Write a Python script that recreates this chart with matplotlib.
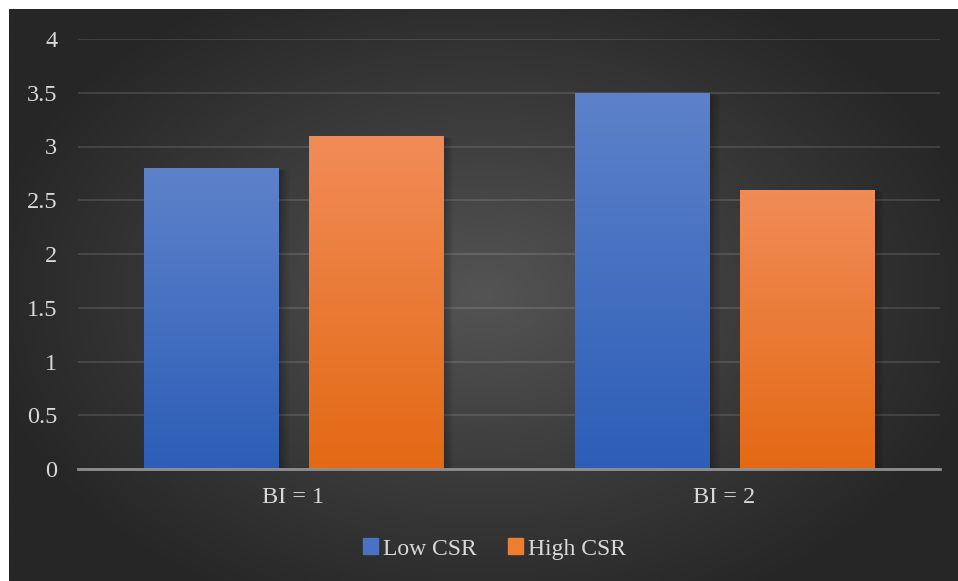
import glob
import numpy as np
import matplotlib
matplotlib.use("Agg")
import matplotlib.pyplot as plt
from matplotlib import font_manager
from matplotlib.patches import Rectangle
from matplotlib.colors import LinearSegmentedColormap

categories = ["BI = 1", "BI = 2"]
low_csr = [2.8, 3.5]
high_csr = [3.1, 2.6]
series_names = ["Low CSR", "High CSR"]
y_ticks = [0, 0.5, 1, 1.5, 2, 2.5, 3, 3.5, 4]
y_tick_labels = ["0", "0.5", "1", "1.5", "2", "2.5", "3", "3.5", "4"]

# register the serif face explicitly in case it isn't in the cache
serif_name = "DejaVu Serif"
for path in glob.glob("/usr/share/fonts/**/LiberationSerif-Regular.ttf", recursive=True):
    font_manager.fontManager.addfont(path)
    serif_name = font_manager.FontProperties(fname=path).get_name()
plt.rcParams["font.family"] = [serif_name, "DejaVu Serif"]
text_col = "#d9d9d9"

fig = plt.figure(figsize=(9.58, 5.81), dpi=100)
fig.patch.set_facecolor("white")
fig.text(0.5, 0.5, serif_name, alpha=0)

# dark radial background panel
bg = fig.add_axes([9 / 958, 0, 949 / 958, 572 / 581])
bg.set_axis_off()
yy, xx = np.mgrid[0:1:300j, 0:1:500j]
r = np.sqrt(((xx - 0.5) / 0.75) ** 2 + ((yy - 0.5) / 0.85) ** 2)
r = np.clip(r / 0.72, 0, 1)
bg_cmap = LinearSegmentedColormap.from_list("bg", ["#545454", "#3c3c3c", "#262626"])
bg.imshow(r, cmap=bg_cmap, aspect="auto", extent=[0, 1, 0, 1], vmin=0, vmax=1)
bg.set_xlim(0, 1)
bg.set_ylim(0, 1)

ax = fig.add_axes([78 / 958, 112 / 581, 862 / 958, 430 / 581])
ax.patch.set_alpha(0)

x = np.arange(len(categories))
width = 0.311
offset = 0.191

blue_cmap = LinearSegmentedColormap.from_list("blue", ["#2d5db7", "#5d82ca"])
orange_cmap = LinearSegmentedColormap.from_list("orange", ["#e36914", "#f18c58"])

grad = np.linspace(0, 1, 256).reshape(-1, 1)
for vals, dx, cmap in [(low_csr, -offset, blue_cmap), (high_csr, offset, orange_cmap)]:
    bars = ax.bar(x + dx, vals, width, color="none", zorder=3)
    for b in bars:
        bx, by = b.get_x(), b.get_y()
        bw, bh = b.get_width(), b.get_height()
        # soft drop shadow
        for k in range(1, 7):
            ax.add_patch(Rectangle((bx + 0.004 * k, by), bw, bh - 0.004 * k,
                                   color="black", alpha=0.045, lw=0, zorder=2))
        im = ax.imshow(grad, cmap=cmap, origin="lower", aspect="auto",
                       extent=[bx, bx + bw, by, by + bh], zorder=3)
        im.set_clip_path(b)

ax.set_xlim(-0.5, 1.5)
ax.set_ylim(0, 4)
ax.set_yticks(y_ticks)
ax.set_yticklabels(y_tick_labels)
ax.set_xticks(x)
ax.set_xticklabels(categories)
ax.tick_params(axis="y", length=0, pad=15, labelsize=17.5, labelcolor=text_col)
ax.tick_params(axis="x", length=0, pad=13, labelsize=17.5, labelcolor=text_col)
ax.grid(axis="y", color="#ffffff", alpha=0.13, lw=1.3, zorder=0)
ax.set_axisbelow(True)
for s in ["top", "right", "left"]:
    ax.spines[s].set_visible(False)
ax.spines["bottom"].set_color("#8f8f8f")
ax.spines["bottom"].set_linewidth(2)
ax.spines["bottom"].set_zorder(4)

handles = [Rectangle((0, 0), 1, 1, color="#4a72c4"), Rectangle((0, 0), 1, 1, color="#ed7d31")]
fig.legend(handles, series_names, loc="center", bbox_to_anchor=(0.516, 0.055), ncol=2,
           frameon=False, fontsize=17, labelcolor=text_col, handlelength=0.65,
           handleheight=0.65, handletextpad=0.2, columnspacing=1.3)

fig.savefig("out.png", dpi=100, facecolor=fig.get_facecolor())
